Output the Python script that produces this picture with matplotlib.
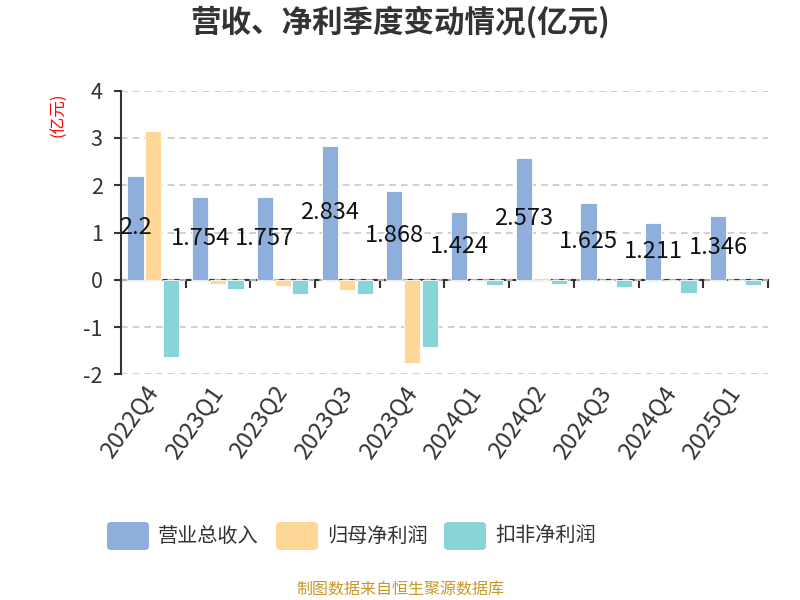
import matplotlib
matplotlib.use("Agg")
import matplotlib.pyplot as plt
import numpy as np
from matplotlib.patches import FancyBboxPatch

plt.rcParams['font.family'] = ['Noto Sans CJK SC', 'DejaVu Sans']
plt.rcParams['axes.unicode_minus'] = False

quarters = ["2022Q4", "2023Q1", "2023Q2", "2023Q3", "2023Q4",
            "2024Q1", "2024Q2", "2024Q3", "2024Q4", "2025Q1"]
revenue = [2.2, 1.754, 1.757, 2.834, 1.868, 1.424, 2.573, 1.625, 1.211, 1.346]
net_profit = [3.14, -0.09, -0.14, -0.21, -1.75, 0.005, 0.04, 0.005, 0.005, 0.005]
deducted_profit = [-1.64, -0.19, -0.29, -0.31, -1.43, -0.12, -0.09, -0.155, -0.28, -0.11]
series_names = ["营业总收入", "归母净利润", "扣非净利润"]
colors = ["#8eaedb", "#ffd897", "#88d4d7"]
yticks = [-2, -1, 0, 1, 2, 3, 4]

fig = plt.figure(figsize=(8, 6), dpi=100)
ax = fig.add_axes([0.151, 0.376, 0.809, 0.473])

x = np.arange(len(quarters))
w = 0.25
off = 0.273
for i, (vals, c) in enumerate(zip([revenue, net_profit, deducted_profit], colors)):
    ax.bar(x + (i - 1) * off, vals, width=w, color=c, edgecolor="white",
           linewidth=0.6, label=series_names[i], zorder=3)

for xi, v in zip(x, revenue):
    ax.text(xi - off, v / 2, f"{v:g}", ha="center", va="center",
            fontsize=17, color="#111111", zorder=5)

ax.set_xlim(-0.5, len(quarters) - 0.5)
ax.set_ylim(-2, 4)
ax.set_yticks(yticks)
ax.set_yticklabels([str(t) for t in yticks], fontsize=15.5, color="#333333")
ax.grid(axis="y", linestyle=(0, (4, 3)), color="#c8c8c8", linewidth=1.2, zorder=0)
ax.set_axisbelow(True)
for s in ["top", "right", "bottom"]:
    ax.spines[s].set_visible(False)
ax.spines["left"].set_color("#333333")
ax.spines["left"].set_linewidth(1.5)
ax.tick_params(axis="y", length=5, width=1.5, color="#333333", pad=8)

ax.set_xticks(x)
ax.set_xticklabels(quarters, rotation=55, ha="right", va="center",
                   rotation_mode="anchor", fontsize=17, color="#333333")
ax.tick_params(axis="x", length=0, pad=10)

sec = ax.secondary_xaxis(1 / 3)
sec.set_xticks(np.arange(len(quarters) + 1) - 0.5)
sec.set_xticklabels([])
sec.tick_params(axis="x", direction="out", length=6, width=1.5, color="#333333")
sec.spines["bottom"].set_color("#333333")
sec.spines["bottom"].set_linewidth(1.5)

fig.text(0.5, 0.962, "营收、净利季度变动情况(亿元)", ha="center", va="center",
         fontsize=22, fontweight="bold", color="#333333")
fig.text(0.074, 1 - 115 / 600, "(亿元)", rotation=90, ha="center", va="center",
         fontsize=12, color="red")

# legend
legend_items = [(107, 158), (276, 327), (444, 495)]
for (rx, tx), name, c in zip(legend_items, series_names, colors):
    fig.patches.append(FancyBboxPatch((rx / 800, 1 - 550 / 600), 42 / 800, 28 / 600,
                                      boxstyle="round,pad=0,rounding_size=0.006",
                                      transform=fig.transFigure, facecolor=c,
                                      edgecolor="none"))
    fig.text(tx / 800, 1 - 536 / 600, name, ha="left", va="center",
             fontsize=14.5, color="#333333")

fig.text(0.5, 1 - 590 / 600, "制图数据来自恒生聚源数据库", ha="center", va="center",
         fontsize=11.5, color="#c8962a")

fig.savefig("out.png", dpi=100)
